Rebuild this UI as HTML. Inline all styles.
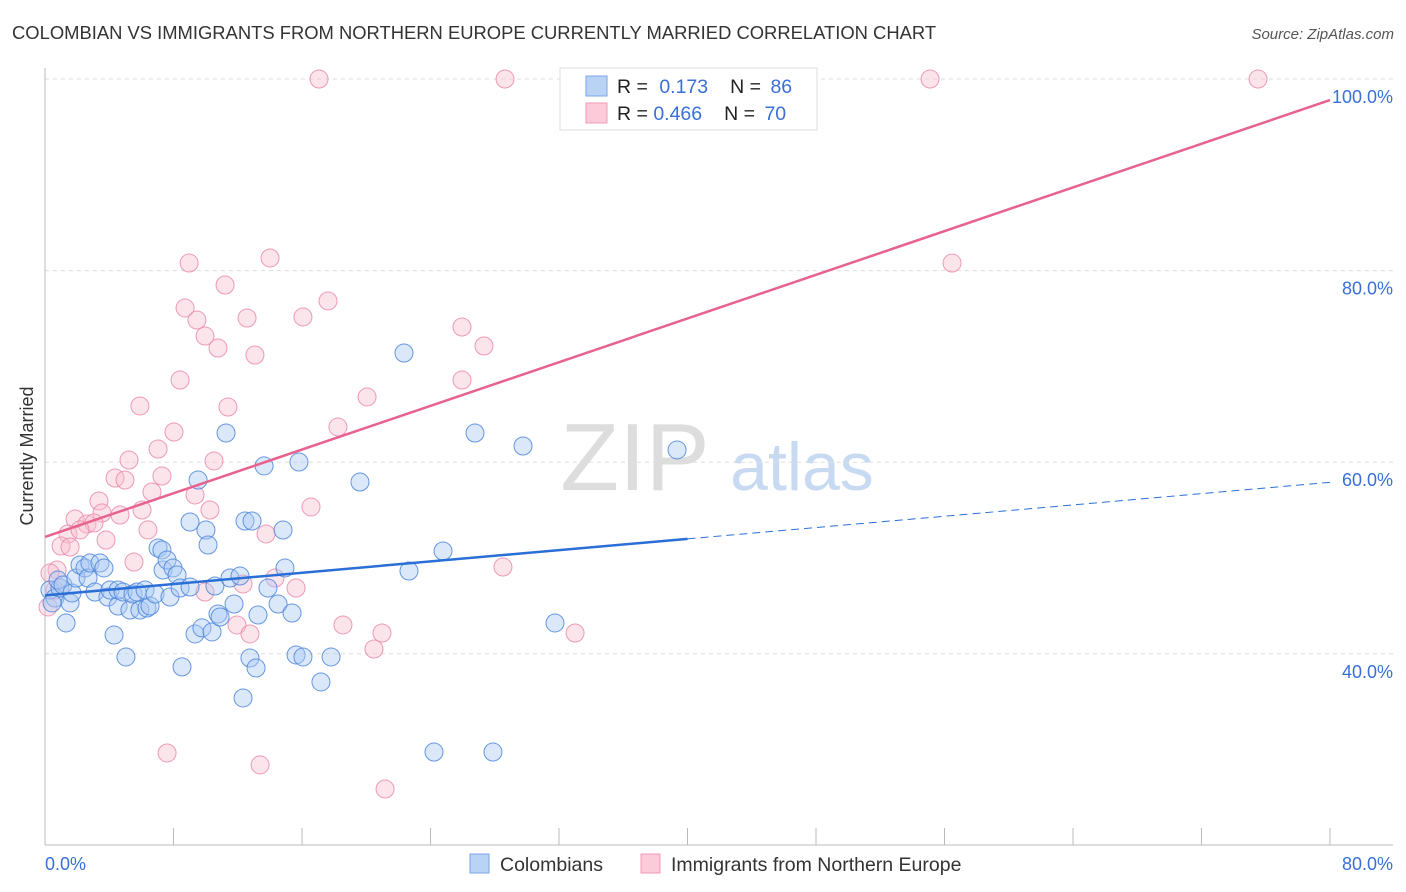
<!DOCTYPE html>
<html><head><meta charset="utf-8">
<style>
body{margin:0;background:#fff;font-family:"Liberation Sans",sans-serif;}
#wrap{position:relative;width:1406px;height:892px;overflow:hidden;}
svg text{font-family:"Liberation Sans",sans-serif;}
</style></head>
<body>
<div id="wrap">
<svg id="svg" width="1406" height="892" xmlns="http://www.w3.org/2000/svg">
<text x="12" y="39" font-size="18.4" fill="#333">COLOMBIAN VS IMMIGRANTS FROM NORTHERN EUROPE CURRENTLY MARRIED CORRELATION CHART</text>
<text x="1394" y="39" font-size="15" fill="#555" font-style="italic" text-anchor="end">Source: ZipAtlas.com</text>
<text x="33" y="456" font-size="18" fill="#333" text-anchor="middle" transform="rotate(-90 33 456)">Currently Married</text>
<g>
<text x="635" y="490" font-size="96" fill="#ddd" font-family="Liberation Serif" text-anchor="middle">ZIP</text>
<text x="802" y="490" font-size="68" fill="#c8daf2" text-anchor="middle">atlas</text>
</g>
<g id="grid"></g>
<g id="axes"></g>
<g id="pts"></g>
<g id="lines"></g>
<g>
<rect x="560" y="68" width="257" height="62" fill="#fff" stroke="#ddd"/>
<rect x="586" y="76" width="21" height="20" fill="#b9d3f5" stroke="#7aa6e6"/>
<rect x="586" y="103" width="21" height="20" fill="#fbcbd9" stroke="#f09ab5"/>
<text x="617" y="93" font-size="19.5" fill="#222">R = <tspan fill="#3a6fd8" dx="6">0.173</tspan><tspan dx="22" fill="#222">N = </tspan><tspan fill="#3a6fd8" dx="4">86</tspan></text>
<text x="617" y="120" font-size="19.5" fill="#222">R = <tspan fill="#3a6fd8">0.466</tspan><tspan dx="22" fill="#222">N = </tspan><tspan fill="#3a6fd8" dx="4">70</tspan></text>
</g>
<g>
<rect x="470" y="854" width="19" height="19" fill="#b9d3f5" stroke="#7aa6e6"/>
<text x="500" y="871" font-size="19.5" fill="#333">Colombians</text>
<rect x="641" y="854" width="19" height="19" fill="#fbcbd9" stroke="#f09ab5"/>
<text x="671" y="871" font-size="19.5" fill="#333">Immigrants from Northern Europe</text>
</g>
</svg>
</div>
<script>
const blueX=[0.31,0.62,0.44,0.93,0.81,1.12,1.56,1.31,1.68,1.93,2.18,2.49,2.68,2.80,3.11,3.42,3.67,3.92,4.05,4.30,4.55,4.55,4.86,5.04,5.29,5.48,5.73,5.91,6.23,6.35,6.54,6.85,7.04,7.28,7.35,7.60,7.78,7.97,8.22,8.41,8.53,9.03,9.03,9.34,9.53,9.77,10.02,10.15,10.40,10.58,10.77,10.90,11.27,11.52,11.77,12.14,12.33,12.45,12.76,12.89,13.14,13.26,13.64,13.88,14.51,14.82,14.94,15.38,15.63,15.81,16.06,17.18,17.81,19.61,22.35,22.66,24.22,24.78,26.77,27.89,29.76,31.75,39.35];
const blueY=[46.66,45.83,45.31,46.87,47.70,47.18,45.31,43.22,46.35,47.91,49.27,48.96,47.91,49.48,46.45,49.48,48.96,45.93,46.66,41.96,44.99,46.66,46.45,39.67,44.57,46.24,46.45,44.57,46.66,44.78,44.99,46.24,51.05,50.84,48.75,49.79,45.93,48.96,48.23,46.87,38.63,53.76,46.97,42.07,58.14,42.70,52.92,51.36,42.28,47.08,44.16,43.84,63.05,47.91,45.20,48.12,35.39,53.86,39.56,53.86,38.52,44.05,59.61,46.87,45.20,52.92,48.96,44.26,39.88,60.02,39.67,37.06,39.67,57.93,71.40,48.64,29.75,50.73,63.05,29.75,61.69,43.22,61.28];
const pinkX=[17.06,28.64,55.10,75.52,56.47,8.97,14.01,11.21,17.62,8.72,9.46,12.58,16.06,9.96,10.77,13.07,25.96,27.33,8.41,20.05,25.96,5.91,11.39,8.03,18.24,7.04,5.23,10.52,7.28,4.36,4.98,6.66,9.34,3.36,16.56,1.87,3.55,6.04,4.67,2.61,1.43,3.05,2.18,6.41,3.80,1.00,1.56,13.76,5.54,28.51,0.75,0.31,14.32,0.19,12.33,15.63,18.55,20.98,11.95,12.76,20.48,33.00,7.60,13.39,21.17,10.27,0.62,9.96];
const pinkY=[100,100,100,100,80.79,80.79,81.32,78.50,76.83,76.10,74.84,75.05,75.16,73.17,71.92,71.19,74.11,72.13,68.58,66.81,68.58,65.87,65.76,63.15,63.68,61.38,60.23,60.13,58.56,58.35,58.14,56.89,56.58,55.95,55.33,54.07,54.70,55.01,54.49,53.55,52.51,53.66,52.93,52.93,51.88,51.25,51.15,52.51,49.58,49.06,48.75,48.44,47.91,44.89,47.29,46.87,43.01,42.17,43.01,42.07,40.50,42.17,29.65,28.40,25.89,55.01,46.66,46.45];
const yTicks=[40,60,80,100];
const yTickLabels=["40.0%","60.0%","80.0%","100.0%"];
const blueTrend=[[0,46.1],[40,52.0],[80,57.9]];
const pinkTrend=[[0,52.2],[80,97.8]];

const X0=45,X1=1330,XMIN=0,XMAX=80;
const Y_AT100=79,PX_PER_PCT=9.58;
function sx(v){return X0+(v-XMIN)/(XMAX-XMIN)*(X1-X0);}
function sy(v){return Y_AT100+(100-v)*PX_PER_PCT;}
const NS="http://www.w3.org/2000/svg";
function mk(tag,attrs,parent){const e=document.createElementNS(NS,tag);for(const k in attrs)e.setAttribute(k,attrs[k]);parent.appendChild(e);return e;}
const grid=document.getElementById('grid'),axes=document.getElementById('axes'),pts=document.getElementById('pts'),lines=document.getElementById('lines');
yTicks.forEach((t,i)=>{
  const l=mk('line',{x1:X0,x2:1393,y1:sy(t),y2:sy(t),stroke:'#ddd','stroke-dasharray':'4,4'},grid);
  
  
  const tx=mk('text',{x:1393,y:sy(t)+24,'font-size':18,fill:'#3a6fd8','text-anchor':'end'},axes);
  tx.textContent=yTickLabels[i];
  
  
});
const ax=mk('line',{x1:X0,x2:1393,y1:845,y2:845,stroke:'#bbb'},axes);


const ay=mk('line',{x1:X0,x2:X0,y1:68,y2:845,stroke:'#bbb'},axes);


for(let v=0;v<=80;v+=8){
  const t=mk('line',{x1:sx(v),x2:sx(v),y1:828,y2:845,stroke:'#bbb'},axes);
  
  
}
const xl0=mk('text',{x:45,y:870,'font-size':18,fill:'#3a6fd8'},axes);xl0.textContent='0.0%';


const xl1=mk('text',{x:1393,y:870,'font-size':18,fill:'#3a6fd8','text-anchor':'end'},axes);xl1.textContent='80.0%';


function drawPts(X,Y,fill,stroke,name){
  X.forEach((x,i)=>{
    const c=mk('circle',{cx:sx(x),cy:sy(Y[i]),r:9,fill:fill,'fill-opacity':0.42,stroke:stroke,'stroke-width':1,'stroke-opacity':0.85},pts);
    
    
  });
}
drawPts(pinkX,pinkY,'#f8bed0','#eb8aaa','point-northern-europe');
drawPts(blueX,blueY,'#a9c8f2','#4d86dc','point-colombian');
const bs=mk('line',{x1:sx(blueTrend[0][0]),y1:sy(blueTrend[0][1]),x2:sx(blueTrend[1][0]),y2:sy(blueTrend[1][1]),stroke:'#2a6fd6','stroke-width':2.5},lines);


const bd=mk('line',{x1:sx(blueTrend[1][0]),y1:sy(blueTrend[1][1]),x2:sx(blueTrend[2][0]),y2:sy(blueTrend[2][1]),stroke:'#2a6fd6','stroke-width':1,'stroke-dasharray':'8,5'},lines);


const pl=mk('line',{x1:sx(pinkTrend[0][0]),y1:sy(pinkTrend[0][1]),x2:sx(pinkTrend[1][0]),y2:sy(pinkTrend[1][1]),stroke:'#e8628f','stroke-width':2.5},lines);


</script>
</body></html>
